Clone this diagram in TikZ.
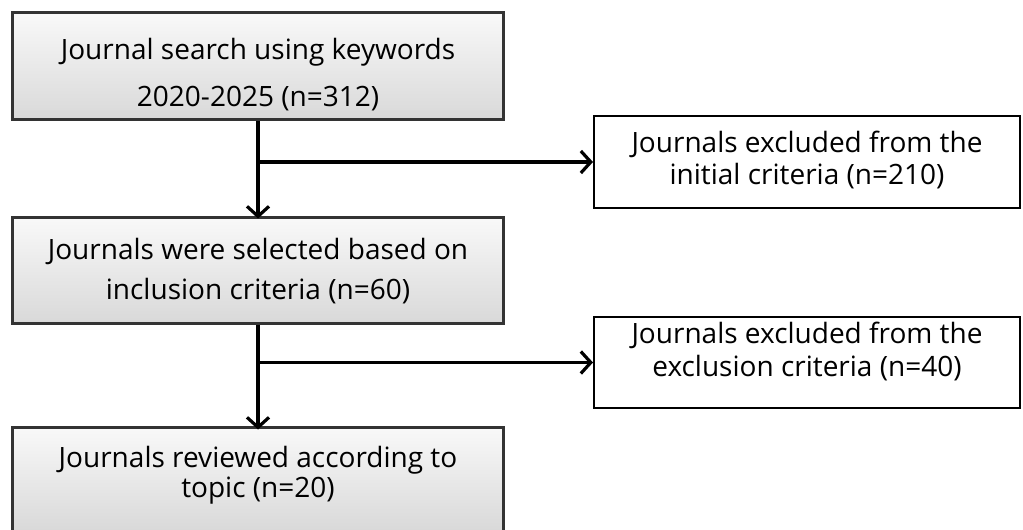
\documentclass[tikz,border=0pt]{standalone}
\usepackage{fontspec}
\setmainfont{Open Sans}
\usetikzlibrary{arrows.meta}
\newcommand{\boxfont}[1]{\fontsize{28bp}{#1}\selectfont}
\tikzset{
  mainbox/.style={draw=black!80, line width=3bp, top color=gray!5, bottom color=gray!30,
    minimum width=490bp, align=center, inner sep=0pt, text=black, text depth=6.7bp},
  sidebox/.style={draw=black, line width=2bp, fill=white,
    minimum width=426bp, align=center, inner sep=0pt, text=black, text depth=6.7bp},
  flow/.style={line width=3.2bp, -{Straight Barb[length=10bp,width=22bp,line width=3.2bp]}}
}
\begin{document}
\begin{tikzpicture}[x=1bp,y=-1bp]
  \useasboundingbox (0,0) rectangle (1023,530);
  % left column: main stages
  \node[mainbox, minimum height=107bp, font=\boxfont{47bp}, text height=87.7bp] (search) at (258,66.5)
    {Journal search using keywords\\2020-2025 (n=312)};
  \node[mainbox, minimum height=105bp, font=\boxfont{40bp}, text height=65.7bp] (select) at (258,270.5)
    {Journals were selected based on\\inclusion criteria (n=60)};
  \node[mainbox, minimum height=104bp, font=\boxfont{30bp}, text height=42.7bp] (review) at (258,479)
    {Journals reviewed according to\\topic (n=20)};
  % right column: exclusions
  \node[sidebox, minimum height=92bp, font=\boxfont{32bp}, text height=52.7bp] (excl1) at (807,162)
    {Journals excluded from the\\initial criteria (n=210)};
  \node[sidebox, minimum height=91bp, font=\boxfont{33bp}, text height=33.7bp] (excl2) at (807,362.5)
    {Journals excluded from the\\exclusion criteria (n=40)};
  % branch points on the vertical flow
  \coordinate (b1) at (search.south |- excl1.west);
  \coordinate (b2) at (select.south |- excl2.west);
  % connectors
  \draw[flow] (search.south) -- ([yshift=-2bp]select.north);
  \draw[flow] (b1) -- (excl1.west);
  \draw[flow] (select.south) -- ([yshift=-4bp]review.north);
  \draw[flow] (b2) -- (excl2.west);
\end{tikzpicture}
\end{document}
